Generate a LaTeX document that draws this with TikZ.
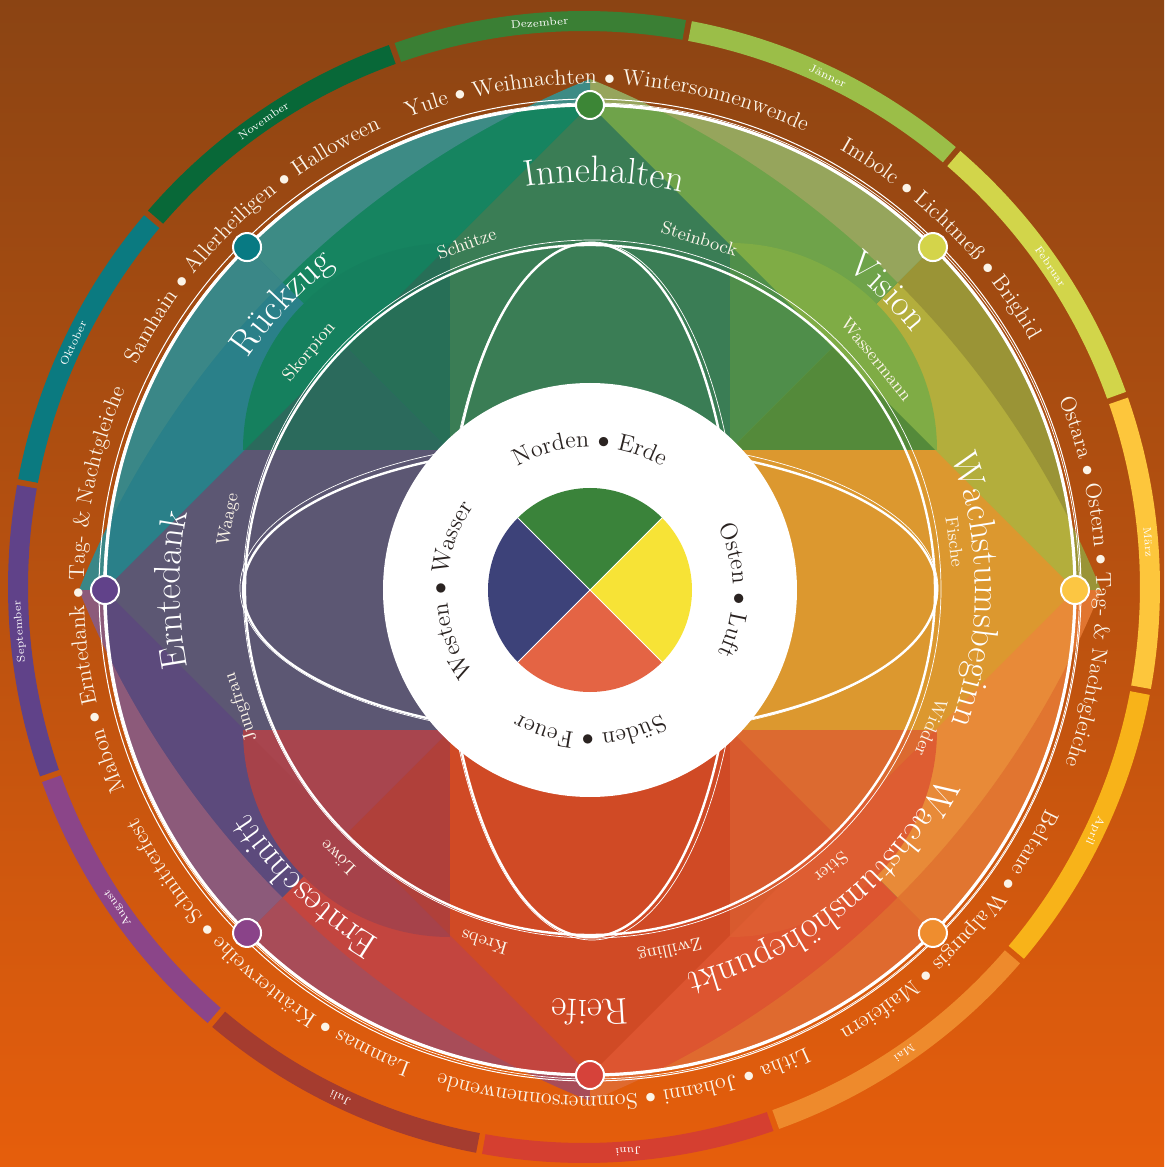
\documentclass[tikz,border=0pt]{standalone}
\usepackage{fontspec}
\usetikzlibrary{decorations.text}

\definecolor{bgtop}{HTML}{8B4413}
\definecolor{bgbot}{HTML}{E65E0C}
\definecolor{cream}{HTML}{FBF4E8}
\definecolor{ink}{HTML}{2A2321}
% months
\definecolor{monDez}{HTML}{3A7F34}
\definecolor{monJan}{HTML}{9BBE48}
\definecolor{monFeb}{HTML}{D2D54A}
\definecolor{monMar}{HTML}{FDC63C}
\definecolor{monApr}{HTML}{F8B319}
\definecolor{monMai}{HTML}{EE8A2C}
\definecolor{monJun}{HTML}{D53F30}
\definecolor{monJul}{HTML}{A53C2F}
\definecolor{monAug}{HTML}{8B4589}
\definecolor{monSep}{HTML}{604289}
\definecolor{monOkt}{HTML}{0B7A80}
\definecolor{monNov}{HTML}{086838}
% wheel
\definecolor{baseEN}{HTML}{B3AE3C}
\definecolor{baseNE}{HTML}{6FA34A}
\definecolor{baseNW}{HTML}{168460}
\definecolor{baseWN}{HTML}{2A8089}
\definecolor{baseWS}{HTML}{5C4A7C}
\definecolor{baseSW}{HTML}{C3453F}
\definecolor{baseSE}{HTML}{DD5530}
\definecolor{baseES}{HTML}{E88A38}
\definecolor{cresNEe}{HTML}{9A9436}
\definecolor{cresNEn}{HTML}{96A55C}
\definecolor{cresNWn}{HTML}{3D8B85}
\definecolor{cresNWw}{HTML}{3A8787}
\definecolor{cresSWw}{HTML}{8C5A7A}
\definecolor{cresSWs}{HTML}{A84C58}
\definecolor{cresSEs}{HTML}{DF6A2F}
\definecolor{cresSEe}{HTML}{E17530}
\definecolor{qdNE}{HTML}{7FAC45}
\definecolor{qdNW}{HTML}{15805E}
\definecolor{qdSW}{HTML}{A6424A}
\definecolor{qdSE}{HTML}{DE5D32}
\definecolor{armN}{HTML}{3A7D55}
\definecolor{armE}{HTML}{DC982F}
\definecolor{armS}{HTML}{D04A25}
\definecolor{armW}{HTML}{5C5773}
\definecolor{triNEn}{HTML}{4F8E4A}
\definecolor{triNEe}{HTML}{548A3A}
\definecolor{triNWn}{HTML}{276F57}
\definecolor{triNWw}{HTML}{2B6A5C}
\definecolor{triSWw}{HTML}{A8454E}
\definecolor{triSWs}{HTML}{B0403A}
\definecolor{triSEs}{HTML}{D85A2E}
\definecolor{triSEe}{HTML}{DC6A30}
% dots and centre
\definecolor{dotYule}{HTML}{3C8636}
\definecolor{dotImbolc}{HTML}{D4D44A}
\definecolor{dotOstara}{HTML}{FCC642}
\definecolor{dotBeltane}{HTML}{EF8D2E}
\definecolor{dotLitha}{HTML}{D6423A}
\definecolor{dotLammas}{HTML}{8A4389}
\definecolor{dotMabon}{HTML}{61428A}
\definecolor{dotSamhain}{HTML}{087A83}
\definecolor{pieN}{HTML}{3A833A}
\definecolor{pieE}{HTML}{F7E336}
\definecolor{pieS}{HTML}{E46444}
\definecolor{pieW}{HTML}{3D4279}

\tikzset{
  fest/.style={decorate, decoration={text along path, text align=center,
      text={|\fontsize{11}{13}\selectfont\color{cream}|#1}}},
  season/.style={decorate, decoration={text along path, text align=center,
      text={|\fontsize{18.5}{20}\selectfont\color{white}|#1}}},
  compass/.style={decorate, decoration={text along path, text align=center,
      text={|\fontsize{12}{14}\selectfont\color{ink}|#1}}},
  zodiac/.style={text=cream, font=\fontsize{9}{10}\selectfont, inner sep=0pt},
  monthlabel/.style={text=white, font=\fontsize{5.5}{6}\selectfont, inner sep=0pt},
  festdot/.style={circle, draw=white, line width=1pt, minimum size=14pt, inner sep=0pt},
  sketch/.style={white, line width=1.2pt},
  sketch thin/.style={white, line width=.35pt},
}

\begin{document}
\begin{tikzpicture}[x=0.5pt, y=0.5pt]
  \useasboundingbox (-590,-577) rectangle (574,590);
  \clip (-590,-577) rectangle (574,590);
  \shade[top color=bgtop, bottom color=bgbot] (-590,-577) rectangle (574,590);

  % month ring
  \begin{scope}[shift={(-6,3)}]
    \foreach \ang/\col/\nm/\txt in {79.5/monDez/dez/Dezember, 49.5/monJan/jan/Jänner,
        19.5/monFeb/feb/Februar, -10.5/monMar/mar/März, -40.5/monApr/apr/April,
        -70.5/monMai/mai/Mai, -100.5/monJun/jun/Juni, -130.5/monJul/jul/Juli,
        -160.5/monAug/aug/August, 169.5/monSep/sep/September,
        139.5/monOkt/okt/Oktober, 109.5/monNov/nov/November} {
      \fill[\col] (\ang+0.3:556) arc[start angle=\ang+0.3, end angle=\ang+29.7, radius=556]
        -- (\ang+29.7:576) arc[start angle=\ang+29.7, end angle=\ang+0.3, radius=576] -- cycle;
      \node[monthlabel, rotate=\ang-75] (\nm) at (\ang+15:566) {\txt};
    }
  \end{scope}

  % half quadrants
  \fill[baseNW] (0,0) circle (485);
  \foreach \ang/\col in {0/baseEN, 45/baseNE, 90/baseNW, 135/baseWN,
      180/baseWS, 225/baseSW, 270/baseSE, 315/baseES}
    \fill[\col] (0,0) -- (\ang:485) arc[start angle=\ang, end angle=\ang+45, radius=485] -- cycle;

  % crescents round the cross-quarter dots
  \foreach \ang/\cola/\colb in {45/cresNEe/cresNEn, 135/cresNWn/cresNWw,
      225/cresSWw/cresSWs, 315/cresSEs/cresSEe} {
    \begin{scope}
      \clip (0,0) -- (\ang-45:700) -- (\ang:700) -- cycle;
      \fill[\cola, even odd rule] (0,0) circle (485) (\ang+180:485) circle (920);
    \end{scope}
    \begin{scope}
      \clip (0,0) -- (\ang:700) -- (\ang+45:700) -- cycle;
      \fill[\colb, even odd rule] (0,0) circle (485) (\ang+180:485) circle (920);
    \end{scope}
  }

  % quarter discs
  \foreach \x/\y/\ang/\col in {140/140/0/qdNE, -140/140/90/qdNW,
      -140/-140/180/qdSW, 140/-140/270/qdSE}
    \fill[\col] (\x,\y) -- ++(\ang:207) arc[start angle=\ang, end angle=\ang+90, radius=207] -- cycle;

  % cross inside the diamond
  \foreach \r/\col in {0/armN, -90/armE, 180/armS, 90/armW}
    \fill[\col, rotate=\r] (-140,0) -- (-140,345) -- (0,485) -- (140,345) -- (140,0) -- cycle;
  \foreach \r/\cola/\colb in {0/triNEn/triNEe, 90/triNWw/triNWn,
      180/triSWs/triSWw, 270/triSEe/triSEs} {
    \fill[\cola, rotate=\r] (140,140) -- (140,345) -- (242.5,242.5) -- cycle;
    \fill[\colb, rotate=\r] (140,140) -- (345,140) -- (242.5,242.5) -- cycle;
  }

  % white sketch lines
  \draw[sketch] (0,0) ellipse [x radius=145, y radius=347];
  \draw[sketch thin] (2,-1) ellipse [x radius=149, y radius=349];
  \draw[sketch] (0,0) ellipse [x radius=347, y radius=145];
  \draw[sketch thin] (-1,2) ellipse [x radius=349, y radius=149];
  \draw[sketch] (0,0) circle (345);
  \draw[sketch thin] (2,1) circle (349);
  \draw[white, line width=1.6pt] (0,0) circle (485);
  \draw[sketch thin] (1.5,-1) circle (488);
  \draw[white, line width=.5pt] (0,0) circle (491);

  % festival dots
  \node[festdot, fill=dotYule] (yule) at (90:485) {};
  \node[festdot, fill=dotImbolc] (imbolc) at (45:485) {};
  \node[festdot, fill=dotOstara] (ostara) at (0:485) {};
  \node[festdot, fill=dotBeltane] (beltane) at (-45:485) {};
  \node[festdot, fill=dotLitha] (litha) at (-90:485) {};
  \node[festdot, fill=dotLammas] (lammas) at (-135:485) {};
  \node[festdot, fill=dotMabon] (mabon) at (180:485) {};
  \node[festdot, fill=dotSamhain] (samhain) at (135:485) {};

  % centre
  \fill[white] (0,0) circle (207);
  \foreach \ang/\col in {45/pieN, -45/pieE, 225/pieS, 135/pieW}
    \fill[\col] (0,0) -- (\ang:102) arc[start angle=\ang, end angle=\ang+90, radius=102] -- cycle;
  \draw[white, line width=.4pt] (45:102) -- (225:102) (135:102) -- (-45:102);

  % festival names
  \path[fest={Yule {$\bullet$} Weihnachten {$\bullet$} Wintersonnenwende}] (148:506) arc[start angle=148, end angle=28, radius=506];
  \path[fest={Imbolc {$\bullet$} Lichtmeß {$\bullet$} Brighid}] (105:506) arc[start angle=105, end angle=-15, radius=506];
  \path[fest={Ostara {$\bullet$} Ostern {$\bullet$} Tag- {\&} Nachtgleiche}] (61:506) arc[start angle=61, end angle=-59, radius=506];
  \path[fest={Beltane {$\bullet$} Walpurgis {$\bullet$} Maifeiern}] (17:506) arc[start angle=17, end angle=-103, radius=506];
  \path[fest={Litha {$\bullet$} Johanni {$\bullet$} Sommersonnenwende}] (-26:506) arc[start angle=-26, end angle=-146, radius=506];
  \path[fest={Lammas {$\bullet$} Kräuterweihe {$\bullet$} Schnitterfest}] (-72:506) arc[start angle=-72, end angle=-192, radius=506];
  \path[fest={Mabon {$\bullet$} Erntedank {$\bullet$} Tag- {\&} Nachtgleiche}] (240:506) arc[start angle=240, end angle=120, radius=506];
  \path[fest={Samhain {$\bullet$} Allerheiligen {$\bullet$} Halloween}] (194:506) arc[start angle=194, end angle=74, radius=506];

  % seasons
  \path[season={Innehalten}] (128:408) arc[start angle=128, end angle=48, radius=408];
  \path[season={Vision}] (85:412) arc[start angle=85, end angle=5, radius=412];
  \path[season={Wachstumsbeginn}] (50:385) arc[start angle=50, end angle=-50, radius=385];
  \path[season={Wachstumshöhepunkt}] (0:396) arc[start angle=0, end angle=-104, radius=396];
  \path[season={Reife}] (-50:410) arc[start angle=-50, end angle=-130, radius=410];
  \path[season={Ernteschnitt}] (-94:408) arc[start angle=-94, end angle=-174, radius=408];
  \path[season={Erntedank}] (220:410) arc[start angle=220, end angle=140, radius=410];
  \path[season={Rückzug}] (177:413) arc[start angle=177, end angle=97, radius=413];

  % zodiac
  \foreach \ang/\nm/\txt in {109.6/schuetze/Schütze, 72.7/steinbock/Steinbock,
      38.8/wassermann/Wassermann, 7.5/fische/Fische, -22/widder/Widder,
      -49/stier/Stier, -77.5/zwilling/Zwilling, -106.7/krebs/Krebs,
      -133.3/loewe/Löwe, -161.4/jungfrau/Jungfrau, 169/waage/Waage,
      139.7/skorpion/Skorpion}
    \node[zodiac, rotate=\ang-90] (\nm) at (\ang:368) {\txt};

  % directions and elements
  \path[compass={Norden {$\bullet$} Erde}] (170:143) arc[start angle=170, end angle=10, radius=143];
  \path[compass={Osten {$\bullet$} Luft}] (80:143) arc[start angle=80, end angle=-80, radius=143];
  \path[compass={Süden {$\bullet$} Feuer}] (-10:143) arc[start angle=-10, end angle=-170, radius=143];
  \path[compass={Westen {$\bullet$} Wasser}] (260:143) arc[start angle=260, end angle=100, radius=143];
\end{tikzpicture}
\end{document}
